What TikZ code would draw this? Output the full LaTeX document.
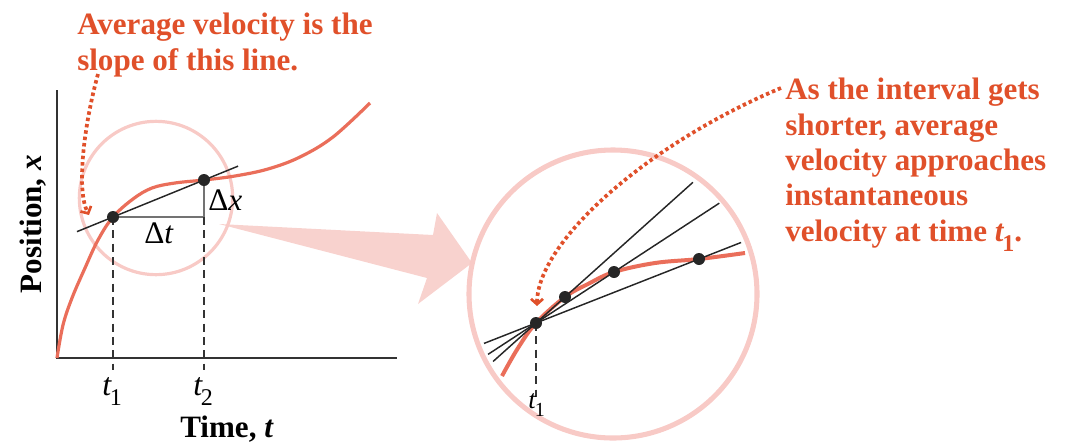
\documentclass[tikz,border=0pt]{standalone}
\usepackage{fontspec}
\setmainfont{Liberation Serif}
\usetikzlibrary{arrows.meta,calc}
\definecolor{txtred}{HTML}{E0502A}
\definecolor{curvered}{HTML}{EA6E5A}
\definecolor{ringpink}{HTML}{F8CAC6}
\definecolor{arrowpink}{HTML}{F8D2CE}
\definecolor{axisgray}{HTML}{333333}
\newcommand{\tlab}[1]{\textit{t}\kern-1.5pt\raisebox{-8pt}{\fontsize{18}{18}\selectfont #1}}
\newcommand{\tlabb}[1]{\textit{t}\kern-1pt\raisebox{-6pt}{\fontsize{15}{15}\selectfont #1}}
\begin{document}
\begin{tikzpicture}[x=0.75pt,y=-0.75pt,
  note/.style={font=\fontsize{23.3}{26.5}\selectfont\bfseries, text=txtred, align=left, anchor=north west, inner sep=0pt},
  axislbl/.style={font=\fontsize{23.3}{26}\selectfont\bfseries, inner sep=0pt},
  tick/.style={font=\fontsize{24}{26}\selectfont, inner sep=0pt, anchor=base west},
  dlabel/.style={font=\fontsize{23.5}{26}\selectfont, inner sep=0pt, anchor=base west},
  dot/.style={circle, fill=black!85, inner sep=0pt, minimum size=9pt},
  ring/.style={circle, draw=ringpink, inner sep=0pt},
  axis/.style={draw=axisgray, line width=1.5pt},
  curve/.style={draw=curvered, line width=2.4pt},
  secant/.style={draw=black!85, line width=1.1pt},
  guide/.style={draw=black!80, line width=1.1pt, dash pattern=on 6pt off 4pt},
  pointer/.style={draw=txtred, line width=2.8pt, dash pattern=on 2.6pt off 2.2pt, -{Straight Barb[length=4pt,width=9pt,line width=2pt]}}
]
\useasboundingbox (0,0) rectangle (1070,443);

% positions
\coordinate (o) at (57,358);
\coordinate (ytop) at (57,90);
\coordinate (xend) at (397,358);
\coordinate (p1) at (113,217);
\coordinate (p2) at (204,180);
\coordinate (corner) at (204,217);
\coordinate (q0) at (536,323);
\coordinate (q1) at (565,297);
\coordinate (q2) at (614,272);
\coordinate (q3) at (699,259);

% big magnification arrow
\fill[arrowpink] (219,224) -- (433,235) -- (437,213) -- (472,263) -- (418,304) -- (427,278) -- cycle;

% rings
\node[ring, line width=2.4pt, minimum size=115pt] (lensA) at (156,198) {};
\node[ring, line width=3.8pt, minimum size=216pt] (lensB) at (613,294) {};

% left graph
\draw[axis] (ytop) -- (o) -- (xend);
\draw[curve] plot[smooth, tension=0.6] coordinates {(o) (63,325) (72,298) (85,268) (98,240) (p1) (133,199) (152,188) (175,183) (p2) (235,176) (268,169) (300,157) (333,137) (370,103)};
\draw[draw=black!55, line width=0.8pt] (p1) -- (corner) -- (p2);
\draw[guide] (p1) -- (113,370);
\draw[guide] (corner) -- (204,370);
\draw[secant] ($(p1)!-0.396!(p2)$) -- ($(p1)!1.374!(p2)$);
\node[dot] (P1) at (p1) {};
\node[dot] (P2) at (p2) {};
\node[dlabel] (dx) at (208,210) {Δ\textit{x}};
\node[dlabel] (dt) at (144,243) {Δ\textit{t}};
\node[tick] (t1) at (102,395) {\tlab{1}};
\node[tick] (t2) at (193,395) {\tlab{2}};
\node[axislbl, anchor=base] (xlab) at (227,437) {Time, \textit{t}};
\node[axislbl, rotate=90] (ylab) at (33,224) {Position, \textit{x}};

% right magnified view
\draw[guide] (q0) -- (536,397);
\draw[curve, line width=3pt] plot[smooth, tension=0.6] coordinates {(502,376) (518,348) (q0) (q1) (588,284) (q2) (655,263) (q3) (745,253)};
\draw[secant] ($(q0)!-1.48!(q1)$) -- ($(q0)!5.41!(q1)$);
\draw[secant] ($(q0)!-0.615!(q2)$) -- ($(q0)!2.35!(q2)$);
\draw[secant] ($(q0)!-0.319!(q3)$) -- ($(q0)!1.258!(q3)$);
\node[dot] (Q0) at (q0) {};
\node[dot] (Q1) at (q1) {};
\node[dot] (Q2) at (q2) {};
\node[dot] (Q3) at (q3) {};
\node[tick, font=\fontsize{20}{22}\selectfont] (t1b) at (528,408) {\tlabb{1}};

% notes
\node[note] (avg) at (77,13) {Average velocity is the\\slope of this line.};
\node[note] (inst) at (785,78) {As the interval gets\\shorter, average\\velocity approaches\\instantaneous\\velocity at time \tlab{1}.};

% pointers
\coordinate (avgstart) at (98,74);
\coordinate (avgend) at (89,215);
\draw[pointer] (avgstart) .. controls (84,125) and (76,190) .. (avgend);
\coordinate (inststart) at (781,88);
\coordinate (instend) at (537,306);
\draw[pointer] (inststart) .. controls (647,144) and (537,242) .. (instend);
\end{tikzpicture}
\end{document}
